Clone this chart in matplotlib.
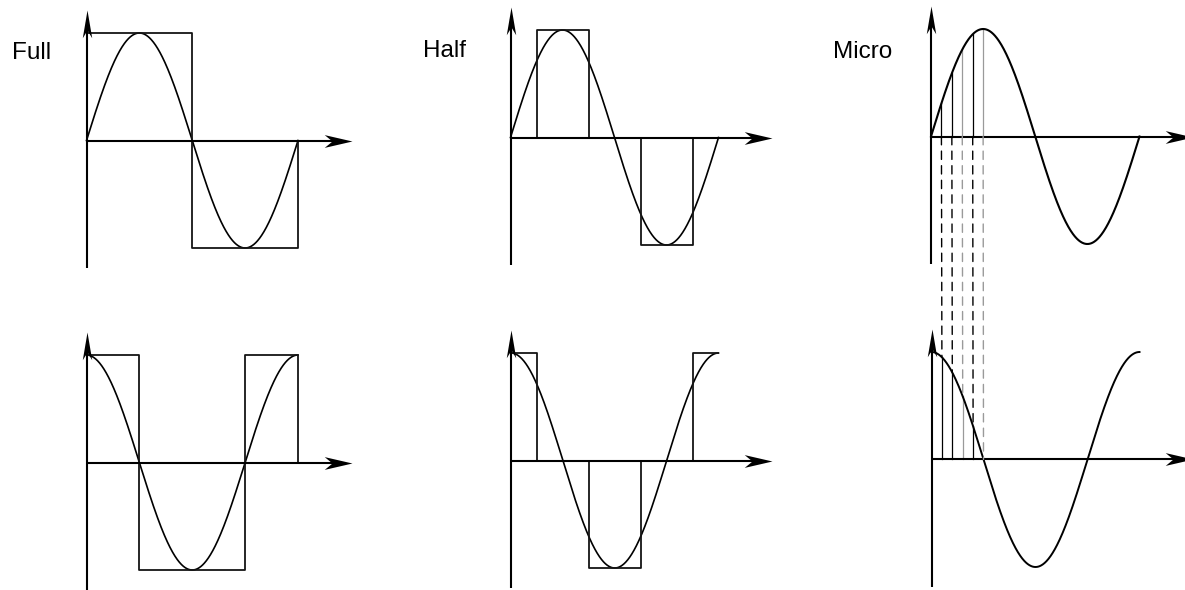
import numpy as np
import matplotlib
matplotlib.use("Agg")
import matplotlib.pyplot as plt
from matplotlib.path import Path
from matplotlib.patches import ConnectionPatch

plt.rcParams['font.family'] = ['Liberation Sans', 'DejaVu Sans']

W, H, DPI = 1185, 590, 100

# drive modes, one column each
mode_labels = ["Full", "Half", "Micro"]

# electrical angle, one period (deg)
phase = np.linspace(0, 360, 721)

# coil current steps: switching edges (deg) and the level held between them
full_a_edges = [0, 180, 360]
full_a_levels = [1, -1]
full_b_edges = [0, 90, 270, 360]
full_b_levels = [1, -1, 1]
half_a_edges = [0, 45, 135, 225, 315, 360]
half_a_levels = [0, 1, 0, -1, 0]
half_b_edges = [0, 45, 135, 225, 315, 360]
half_b_levels = [1, 0, -1, 0, 1]

# microstep sample angles (deg)
micro_angles = [18, 36, 54, 72, 90]

# axis extents in panel units
Y_BOTTOM, Y_TIP, X_TIP = -1.19, 1.21, 452

# panel placement in pixels: origin x, origin y, width of one period
AMP_PX = 107.5
layout = {
    "full_a": (86.5, 140.5, 211.5),
    "full_b": (86.5, 462.5, 211.5),
    "half_a": (510.5, 137.5, 208),
    "half_b": (511, 460.5, 207.5),
    "micro_a": (931, 136.5, 208.5),
    "micro_b": (931.5, 459.5, 208),
}
label_pos = [(12, 59), (423, 57), (833, 57.5)]
micro_colors = ["black", "black", "#9a9a9a", "black", "#9a9a9a"]

# stealth arrowheads, tip at the origin
_codes = [Path.MOVETO, Path.LINETO, Path.LINETO, Path.LINETO, Path.CLOSEPOLY]
head_right = Path([(0, 0), (-1, 0.23), (-0.72, 0), (-1, -0.23), (0, 0)], _codes)
head_up = Path([(0, 0), (-0.17, -1), (0, -0.72), (0.17, -1), (0, 0)], _codes)

fig = plt.figure(figsize=(W / DPI, H / DPI), dpi=DPI)


def make_panel(ox, oy, period_px):
    sx = period_px / 360.0
    left, right, top, bottom = ox - 80, ox + 300, oy - 140, oy + 140
    ax = fig.add_axes([left / W, 1 - bottom / H, (right - left) / W, (bottom - top) / H])
    ax.set_xlim((left - ox) / sx, (right - ox) / sx)
    ax.set_ylim((oy - bottom) / AMP_PX, (oy - top) / AMP_PX)
    ax.axis("off")
    # axes with arrowheads
    ax.plot([0, 0], [Y_BOTTOM, Y_TIP - 12 / AMP_PX], color="black", lw=1.5,
            solid_capstyle="butt", clip_on=False, zorder=3)
    ax.plot([0, X_TIP - 12 / sx], [0, 0], color="black", lw=1.5,
            solid_capstyle="butt", clip_on=False, zorder=3)
    ax.plot(0, Y_TIP, marker=head_up, ms=40, mew=0, color="black",
            clip_on=False, zorder=4)
    ax.plot(X_TIP, 0, marker=head_right, ms=40, mew=0, color="black",
            clip_on=False, zorder=4)
    return ax


def draw_steps(ax, edges, levels, close):
    xs, ys = [edges[0]], [0]
    for i, lv in enumerate(levels):
        xs += [edges[i], edges[i + 1]]
        ys += [lv, lv]
    if close:
        xs.append(edges[-1])
        ys.append(0)
    ax.plot(xs, ys, color="#151515", lw=1.3, clip_on=False, zorder=2)


def draw_wave(ax, values, lw=1.2):
    ax.plot(phase, values, color="black", lw=lw, clip_on=False, zorder=2)


rad = np.deg2rad(phase)
axes = {name: make_panel(*pos) for name, pos in layout.items()}

# full step
draw_wave(axes["full_a"], np.sin(rad))
draw_steps(axes["full_a"], full_a_edges, full_a_levels, True)
draw_wave(axes["full_b"], np.cos(rad))
draw_steps(axes["full_b"], full_b_edges, full_b_levels, True)

# half step
draw_wave(axes["half_a"], np.sin(rad))
draw_steps(axes["half_a"], half_a_edges, half_a_levels, True)
draw_wave(axes["half_b"], np.cos(rad))
draw_steps(axes["half_b"], half_b_edges, half_b_levels, False)

# microstep: sampled sine / cosine with projections between the two coils
ax_a, ax_b = axes["micro_a"], axes["micro_b"]
draw_wave(ax_a, np.sin(rad), lw=1.5)
draw_wave(ax_b, np.cos(rad), lw=1.4)
for ang, col in zip(micro_angles, micro_colors):
    r = np.deg2rad(ang)
    ax_a.plot([ang, ang], [0, np.sin(r)], color=col, lw=0.9, zorder=1)
    ax_b.plot([ang, ang], [0, np.cos(r)], color=col, lw=0.9, zorder=1)
    con = ConnectionPatch(xyA=(ang, 0), coordsA=ax_a.transData,
                          xyB=(ang, np.cos(r)), coordsB=ax_b.transData,
                          color=col, lw=1.0, linestyle=(0, (6, 4.5)), zorder=1)
    fig.add_artist(con)

for text, (px, py) in zip(mode_labels, label_pos):
    fig.text(px / W, 1 - py / H, text, ha="left", va="baseline", fontsize=17.5)

fig.savefig("out.png", dpi=DPI, facecolor="white")
